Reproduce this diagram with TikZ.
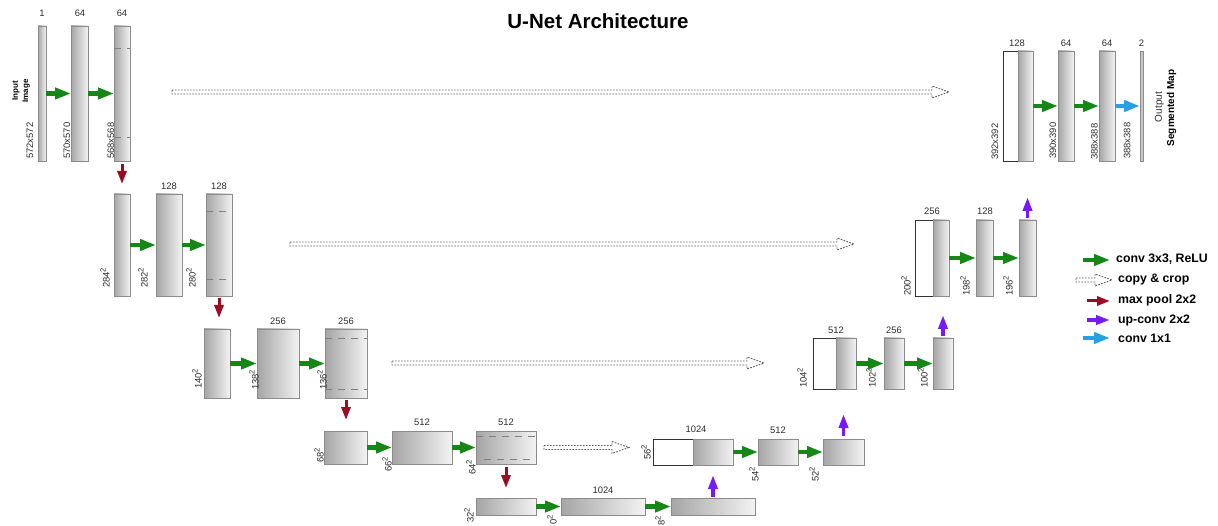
\documentclass[tikz,border=0pt]{standalone}
\usepackage{fontspec}
\setmainfont{Liberation Sans}
\usetikzlibrary{arrows.meta,calc}
\definecolor{convg}{RGB}{22,134,22}
\definecolor{poolr}{RGB}{155,12,35}
\definecolor{upv}{RGB}{120,25,250}
\definecolor{onebl}{RGB}{40,160,225}
\definecolor{bordg}{RGB}{140,140,140}
\definecolor{shL}{RGB}{165,165,165}
\definecolor{shR}{RGB}{243,243,243}
\definecolor{txt}{RGB}{45,45,45}
\definecolor{cpg}{RGB}{95,95,95}
\newcommand{\ublock}[6][blk]{\node[#1, minimum width={(#5-#3)*1pt}, minimum height={(#6-#4)*1pt}] (#2) at (#3,#4) {};}
\newcommand{\copyarrow}[2]{\draw[copyline] ($(#1)+(0,-2)$) -- ($(#2)+(-17,-2)$) -- ($(#2)+(-17,-6)$) -- (#2) -- ($(#2)+(-17,6)$) -- ($(#2)+(-17,2)$) -- ($(#1)+(0,2)$) -- cycle;}
\newcommand{\sq}{\raisebox{0.42em}{\fontsize{7.6}{8}\selectfont 2}}
\begin{document}
\begin{tikzpicture}[x=1pt,y=-1pt,
 blk/.style={draw=bordg, line width=0.9pt, left color=shL, right color=shR, inner sep=0pt, outer sep=0pt, anchor=north west, rectangle},
 wblk/.style={draw=black!80, line width=0.9pt, fill=white, inner sep=0pt, outer sep=0pt, anchor=north west, rectangle},
 pblk/.style={draw=bordg, line width=0.9pt, fill=black!22, inner sep=0pt, outer sep=0pt, anchor=north west, rectangle},
 num/.style={text=txt, font=\fontsize{9.4}{11}\selectfont, inner sep=0pt},
 dim/.style={num, rotate=90, anchor=west},
 conv/.style={draw=convg, line width=4.5pt, -{Triangle[length=16pt,width=11pt]}},
 one/.style={draw=onebl, line width=4.5pt, -{Triangle[length=16pt,width=11pt]}},
 pool/.style={draw=poolr, line width=3pt, -{Triangle[length=13pt,width=9pt]}},
 upc/.style={draw=upv, line width=3.5pt, -{Triangle[length=14pt,width=9pt]}},
 copyline/.style={draw=cpg, line width=0.9pt, dash pattern=on 1.7pt off 1.3pt},
 cropd/.style={draw=black!50, line width=0.9pt, dash pattern=on 7pt off 6pt},
 leg/.style={font=\bfseries\fontsize{12.3}{14}\selectfont, anchor=west, inner sep=0pt}
]
\useasboundingbox (0,0) rectangle (1218,526);

% title
\node[font=\bfseries\fontsize{20.5}{24}\selectfont] (title) at (598,21) {U-Net Architecture};

% ---- row 1 left
\ublock{A1}{38}{26}{46}{161}
\ublock{A2}{71}{26}{88}{161}
\ublock{A3}{114}{26}{130}{161}
\draw[cropd] (114,48) -- (130,48);
\draw[cropd] (114,137) -- (130,137);
\node[num] (tA1) at (42,13) {1};
\node[num] (tA2) at (80,13) {64};
\node[num] (tA3) at (122,13) {64};
\node[dim] (dA1) at (30,159) {572x572};
\node[dim] (dA2) at (67,159) {570x570};
\node[dim] (dA3) at (111,159) {568x568};
\node[rotate=90, align=center, font=\bfseries\fontsize{8}{10.3}\selectfont, inner sep=0pt] (inl) at (21,91) {Input\\Image};
\draw[conv] (A1.east) -- (A2.west);
\draw[conv] (A2.east) -- (A3.west);

% ---- row 2 left
\ublock{B1}{114}{194}{130}{296}
\ublock{B2}{156}{194}{182}{296}
\ublock{B3}{206}{194}{232}{296}
\draw[cropd] (206,211) -- (232,211);
\draw[cropd] (206,279) -- (232,279);
\node[num] (tB2) at (169,186) {128};
\node[num] (tB3) at (219,186) {128};
\node[dim] (dB1) at (105,288) {284\sq};
\node[dim] (dB2) at (143,288) {282\sq};
\node[dim] (dB3) at (191,288) {280\sq};
\draw[conv] (B1.east) -- (B2.west);
\draw[conv] (B2.east) -- (B3.west);

% ---- row 3 left
\ublock{C1}{204}{329}{230}{398}
\ublock{C2}{257}{329}{299}{398}
\ublock{C3}{325}{329}{367}{398}
\draw[cropd] (325,338) -- (367,338);
\draw[cropd] (325,389) -- (367,389);
\node[num] (tC2) at (278,321) {256};
\node[num] (tC3) at (346,321) {256};
\node[dim] (dC1) at (197,389) {140\sq};
\node[dim] (dC2) at (254,390) {138\sq};
\node[dim] (dC3) at (322,390) {136\sq};
\draw[conv] (C1.east) -- (C2.west);
\draw[conv] (C2.east) -- (C3.west);

% ---- row 4 left
\ublock{D1}{324}{431}{367}{464}
\ublock{D2}{392}{431}{452}{464}
\ublock{D3}{476}{431}{536}{464}
\draw[cropd] (476,436.5) -- (536,436.5);
\draw[cropd] (484,459) -- (536,459);
\node[num] (tD2) at (422,422.5) {512};
\node[num] (tD3) at (506,422.5) {512};
\node[dim] (dD1) at (319,463) {68\sq};
\node[dim] (dD2) at (387,472) {66\sq};
\node[dim] (dD3) at (471,475) {64\sq};
\draw[conv] (D1.east) -- (D2.west);
\draw[conv] (D2.east) -- (D3.west);

% ---- row 5 bottom
\ublock{E1}{476}{498}{536}{515}
\ublock{E2}{561}{498}{645}{515}
\ublock{E3}{671}{498}{755}{515}
\node[num] (tE2) at (603,490) {1024};
\node[dim] (dE1) at (469,523) {32\sq};
\node[dim] (dE2) at (552,525) {0\sq};
\node[dim] (dE3) at (660,525.5) {8\sq};
\draw[conv] (E1.east) -- (E2.west);
\draw[conv] (E2.east) -- (E3.west);

% ---- row 4 right
\ublock[wblk]{R4a}{653}{439}{693}{465}
\ublock{R4g}{693}{439}{733}{465}
\ublock{R4b}{758}{439}{798}{465}
\ublock{R4c}{823}{439}{864}{465}
\node[num] (tR4a) at (696,429) {1024};
\node[num] (tR4b) at (778,430.5) {512};
\node[dim] (dR4a) at (646,460) {56\sq};
\node[dim] (dR4b) at (754,482) {54\sq};
\node[dim] (dR4c) at (814,482) {52\sq};
\draw[conv] (R4g.east) -- (R4b.west);
\draw[conv] (R4b.east) -- (R4c.west);

% ---- row 3 right
\ublock[wblk]{R3a}{813}{338}{836}{389}
\ublock{R3g}{836}{338}{856}{389}
\ublock{R3b}{884}{338}{904}{389}
\ublock{R3c}{933}{338}{953}{389}
\node[num] (tR3a) at (836,330) {512};
\node[num] (tR3b) at (894,330) {256};
\node[dim] (dR3a) at (802,388) {104\sq};
\node[dim] (dR3b) at (871,388) {102\sq};
\node[dim] (dR3c) at (923,388) {100\sq};
\draw[conv] (R3g.east) -- (R3b.west);
\draw[conv] (R3b.east) -- (R3c.west);

% ---- row 2 right
\ublock[wblk]{R2a}{915}{220}{933}{296}
\ublock{R2g}{933}{220}{949}{296}
\ublock{R2b}{976}{220}{993}{296}
\ublock{R2c}{1019}{220}{1036}{296}
\node[num] (tR2a) at (932,211) {256};
\node[num] (tR2b) at (985,211) {128};
\node[dim] (dR2a) at (906,296) {200\sq};
\node[dim] (dR2b) at (965,296) {198\sq};
\node[dim] (dR2c) at (1008,296) {196\sq};
\draw[conv] (R2g.east) -- (R2b.west);
\draw[conv] (R2b.east) -- (R2c.west);

% ---- row 1 right
\ublock[wblk]{R1a}{1003}{51}{1018}{161}
\ublock{R1g}{1018}{51}{1033}{161}
\ublock{R1b}{1058}{51}{1074}{161}
\ublock{R1c}{1099}{51}{1115}{161}
\ublock[pblk]{R1d}{1140}{51}{1143}{161}
\node[num] (tR1a) at (1017,43) {128};
\node[num] (tR1b) at (1066,43) {64};
\node[num] (tR1c) at (1107,43) {64};
\node[num] (tR1d) at (1141.5,43) {2};
\node[dim] (dR1a) at (995,160) {392x392};
\node[dim] (dR1b) at (1053,159) {390x390};
\node[dim] (dR1c) at (1094.5,160) {388x388};
\node[dim] (dR1d) at (1127,159) {388x388};
\node[rotate=90, text=txt, font=\fontsize{10}{12}\selectfont, inner sep=0pt] (outl) at (1159.5,107) {Output};
\node[rotate=90, font=\bfseries\fontsize{10}{12}\selectfont, inner sep=0pt] (segl) at (1171.5,108) {Segmented Map};
\draw[conv] (R1g.east) -- (R1b.west);
\draw[conv] (R1b.east) -- (R1c.west);
\draw[one] (R1c.east) -- (R1d.west);

% ---- max pool arrows
\draw[pool, shorten <=3pt, shorten >=10pt] (A3.south) -- (A3.south |- B1.north);
\draw[pool, shorten <=2pt, shorten >=11pt] (B3.south) -- (B3.south |- C1.north);
\draw[pool, shorten <=2pt, shorten >=11pt] (C3.south) -- (C3.south |- D1.north);
\draw[pool, shorten <=3pt, shorten >=10pt] (D3.south) -- (D3.south |- E1.north);

% ---- up-conv arrows
\coordinate (uE3) at ([yshift=23pt]E3.north);
\coordinate (uR4) at ([yshift=25pt]R4c.north);
\coordinate (uR3) at ([yshift=23pt]R3c.north);
\coordinate (uR2) at ([yshift=23pt]R2c.north);
\draw[upc, shorten <=1.5pt] (E3.north) -- (uE3);
\draw[upc, shorten <=3pt] (R4c.north) -- (uR4);
\draw[upc, shorten <=2pt] (R3c.north) -- (uR3);
\draw[upc, shorten <=2pt] (R2c.north) -- (uR2);

% ---- copy & crop
\coordinate (c1s) at (172,92);  \coordinate (c1e) at (949,92);
\coordinate (c2s) at (290,244); \coordinate (c2e) at (854,244);
\coordinate (c3s) at (392,363); \coordinate (c3e) at (764,363);
\coordinate (c4s) at (544,447.5); \coordinate (c4e) at (629,447.5);
\copyarrow{c1s}{c1e}
\copyarrow{c2s}{c2e}
\copyarrow{c3s}{c3e}
\copyarrow{c4s}{c4e}

% ---- legend
\coordinate (lg1s) at (1083,260); \coordinate (lg1e) at (1110,260);
\coordinate (lg2s) at (1076,280); \coordinate (lg2e) at (1112,280);
\coordinate (lg3s) at (1087,301); \coordinate (lg3e) at (1110,301);
\coordinate (lg4s) at (1087,320); \coordinate (lg4e) at (1110,320);
\coordinate (lg5s) at (1083,338); \coordinate (lg5e) at (1110,338);
\draw[conv] (lg1s) -- (lg1e);
\copyarrow{lg2s}{lg2e}
\draw[pool] (lg3s) -- (lg3e);
\draw[upc] (lg4s) -- (lg4e);
\draw[one] (lg5s) -- (lg5e);
\node[leg] (lt1) at (1116,259) {conv 3x3, ReLU};
\node[leg] (lt2) at (1118,280) {copy \& crop};
\node[leg] (lt3) at (1118,300) {max pool 2x2};
\node[leg] (lt4) at (1118,320) {up-conv 2x2};
\node[leg] (lt5) at (1118,338) {conv 1x1};
\end{tikzpicture}
\end{document}
